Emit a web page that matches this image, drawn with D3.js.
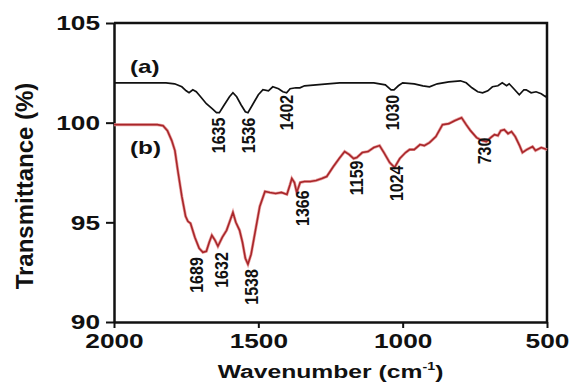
<!DOCTYPE html>
<html>
<head>
<meta charset="utf-8">
<script src="https://cdn.jsdelivr.net/npm/d3@7"></script>
<style>
  body { margin: 0; background: #fff; }
  svg text { font-family: "Liberation Sans", Arial, sans-serif; font-weight: bold; }
</style>
</head>
<body>
<div id="chart"></div>
<script>
// Spectrum (a): wavenumber (cm-1) and transmittance (%)
const waveA = [2000, 1900, 1820, 1790, 1765, 1750, 1740, 1727, 1715, 1700, 1680, 1660, 1645, 1635, 1620, 1600, 1588, 1575, 1560, 1545, 1536, 1520, 1500, 1484, 1465, 1450, 1430, 1415, 1402, 1390, 1370, 1356, 1340, 1300, 1260, 1218, 1150, 1100, 1060, 1040, 1030, 1015, 1000, 960, 930, 907, 880, 840, 800, 780, 760, 740, 723, 705, 689, 670, 655, 640, 631, 615, 596, 580, 572, 555, 538, 520, 505, 500];
const transA = [102.0, 102.0, 102.0, 101.95, 101.8, 101.6, 101.5, 101.65, 101.55, 101.3, 100.95, 100.7, 100.5, 100.5, 100.85, 101.3, 101.5, 101.3, 100.9, 100.55, 100.5, 100.9, 101.4, 101.65, 101.6, 101.8, 101.7, 101.55, 101.5, 101.7, 101.75, 101.75, 101.85, 101.9, 101.95, 102.0, 102.0, 102.0, 101.9, 101.65, 101.65, 101.85, 102.0, 101.95, 101.85, 101.8, 101.95, 102.05, 102.1, 102.0, 101.75, 101.55, 101.5, 101.6, 101.8, 101.85, 102.0, 101.85, 101.95, 101.7, 101.4, 101.65, 101.65, 101.5, 101.55, 101.45, 101.3, 101.35];

// Spectrum (b)
const waveB = [2000, 1950, 1900, 1850, 1830, 1815, 1800, 1789, 1779, 1765, 1752, 1744, 1735, 1720, 1705, 1692, 1680, 1670, 1661, 1650, 1640, 1625, 1610, 1600, 1588, 1578, 1565, 1555, 1545, 1536, 1525, 1510, 1495, 1477, 1460, 1440, 1420, 1401, 1390, 1384, 1375, 1367, 1355, 1340, 1320, 1300, 1280, 1263, 1240, 1220, 1201, 1185, 1170, 1159, 1140, 1120, 1100, 1080, 1065, 1045, 1028, 1010, 990, 976, 960, 940, 925, 907, 885, 862, 840, 820, 796, 780, 765, 744, 725, 710, 695, 682, 670, 660, 648, 635, 623, 610, 595, 585, 570, 550, 540, 520, 500];
const transB = [99.9, 99.9, 99.9, 99.9, 99.85, 99.6, 99.1, 98.6, 97.6, 96.3, 95.3, 95.05, 94.95, 94.25, 93.7, 93.5, 93.55, 94.0, 94.35, 94.1, 93.8, 94.25, 94.6, 95.0, 95.5, 95.0, 94.6, 94.0, 93.2, 92.9, 93.4, 94.6, 95.8, 96.55, 96.5, 96.45, 96.5, 96.4, 96.9, 97.2, 97.0, 96.5, 97.0, 97.05, 97.05, 97.1, 97.2, 97.3, 97.8, 98.2, 98.55, 98.4, 98.2, 98.25, 98.5, 98.55, 98.75, 98.85, 98.5, 98.0, 97.75, 98.2, 98.5, 98.65, 98.65, 98.9, 98.85, 99.0, 99.3, 99.9, 99.95, 100.1, 100.25, 99.9, 99.6, 99.25, 99.1, 99.05, 99.25, 99.4, 99.35, 99.6, 99.65, 99.45, 99.55, 99.3, 98.85, 98.5, 98.65, 98.8, 98.6, 98.75, 98.65];

// Peak labels: text, position along x (cm-1), top of label (%)
const peakTextA = ['1635', '1536', '1402', '1030'];
const peakPosA = [1637, 1534, 1402, 1033];
const peakTopA = [100.25, 100.25, 101.4, 101.4];

const peakTextB = ['1689', '1632', '1538', '1366', '1159', '1024', '730'];
const peakPosB = [1713, 1626, 1522, 1346, 1159, 1018, 716];
const peakTopB = [93.25, 93.5, 92.65, 96.6, 98.1, 97.85, 99.25];

const xTicks = [2000, 1500, 1000, 500];
const yTicks = [90, 95, 100, 105];

const width = 569;
const height = 383;
const margin = { top: 23, right: 22, bottom: 61, left: 114 };
const stretch = 1.25; // the source figure's lettering is widened horizontally

const svg = d3.select('#chart').append('svg')
    .attr('width', width)
    .attr('height', height);

const x = d3.scaleLinear().domain([2000, 500]).range([margin.left, width - margin.right]);
const y = d3.scaleLinear().domain([90, 105]).range([height - margin.bottom, margin.top]);

// frame (top and right edges)
svg.append('path')
    .attr('d', `M${x(2000)},${y(105)}H${x(500)}V${y(90)}`)
    .attr('fill', 'none')
    .attr('stroke', '#111')
    .attr('stroke-width', 2.5);

// x axis
const xAxis = svg.append('g')
    .attr('transform', `translate(0,${y(90)})`)
    .call(d3.axisBottom(x).tickValues(xTicks).tickFormat(d3.format('d'))
        .tickSize(6).tickSizeOuter(0).tickPadding(5));
// y axis
const yAxis = svg.append('g')
    .attr('transform', `translate(${x(2000)},0)`)
    .call(d3.axisLeft(y).tickValues(yTicks).tickSize(8).tickSizeOuter(0).tickPadding(6));

[xAxis, yAxis].forEach(ax => {
    ax.select('.domain').attr('stroke', '#111').attr('stroke-width', 2.5);
    ax.selectAll('.tick line').attr('stroke', '#111').attr('stroke-width', 2);
    ax.selectAll('.tick text')
        .attr('fill', '#111')
        .attr('transform', `scale(${stretch},1)`)
        .style('font-size', '21px')
        .style('font-family', '"Liberation Sans", Arial, sans-serif')
        .style('font-weight', 'bold');
});
yAxis.selectAll('.tick text').attr('x', -14 / stretch);

// spectra
const line = d3.line().x(d => x(d[0])).y(d => y(d[1]));

svg.append('path')
    .datum(d3.zip(waveA, transA))
    .attr('d', line)
    .attr('fill', 'none')
    .attr('stroke', '#111')
    .attr('stroke-width', 1.7);

// soft red halo then darker core, like the scanned figure
svg.append('path')
    .datum(d3.zip(waveB, transB))
    .attr('d', line)
    .attr('fill', 'none')
    .attr('stroke', '#e8a0a0')
    .attr('stroke-width', 3);
svg.append('path')
    .datum(d3.zip(waveB, transB))
    .attr('d', line)
    .attr('fill', 'none')
    .attr('stroke', '#a8262a')
    .attr('stroke-width', 1.6);

// peak labels (rotated, reading upward)
function addPeaks(texts, pos, tops) {
    svg.append('g').selectAll('text')
        .data(d3.zip(texts, pos, tops))
        .enter().append('text')
        .attr('transform', d => `translate(${x(d[1]) + 6},${y(d[2])}) rotate(-90) scale(1,1.12)`)
        .attr('text-anchor', 'end')
        .attr('fill', '#111')
        .style('font-size', '16px')
        .text(d => d[0]);
}
addPeaks(peakTextA, peakPosA, peakTopA);
addPeaks(peakTextB, peakPosB, peakTopB);

// series names
function addName(label, val) {
    svg.append('text')
        .attr('transform', `translate(130,${y(val)}) scale(${stretch + 0.1},1)`)
        .attr('fill', '#111')
        .style('font-size', '18px')
        .text(label);
}
addName('(a)', 102.5);
addName('(b)', 98.45);

// axis titles
const xTitle = svg.append('text')
    .attr('transform', `translate(${(margin.left + width - margin.right) / 2},378) scale(1.3,1)`)
    .attr('text-anchor', 'middle')
    .attr('fill', '#111')
    .style('font-size', '19px');
xTitle.append('tspan').text('Wavenumber (cm');
xTitle.append('tspan').attr('dy', -8).style('font-size', '11px').text('-1');
xTitle.append('tspan').attr('dy', 8).text(')');

svg.append('text')
    .attr('transform', `translate(33,186) rotate(-90)`)
    .attr('text-anchor', 'middle')
    .attr('fill', '#111')
    .style('font-size', '24px')
    .text('Transmittance (%)');
</script>
</body>
</html>
